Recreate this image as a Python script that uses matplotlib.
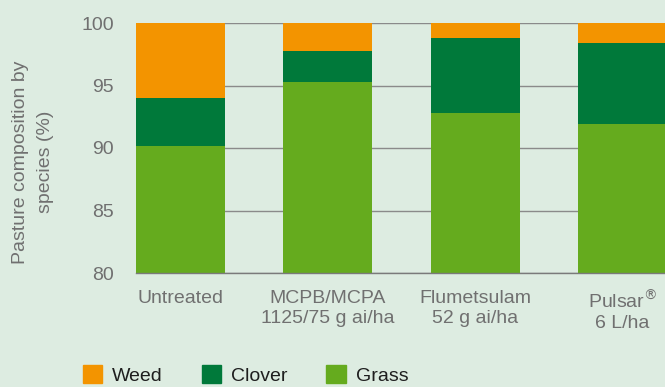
import numpy as np
import matplotlib
matplotlib.use('Agg')
import matplotlib.pyplot as plt
from matplotlib.patches import Patch

treatments = ['Untreated', 'MCPB/MCPA\n1125/75 g ai/ha', 'Flumetsulam\n52 g ai/ha',
              'Pulsar$^{®}$\n6 L/ha']
grass = [90.2, 95.3, 92.8, 91.9]
clover = [3.8, 2.5, 6.0, 6.5]
weed = [6.0, 2.2, 1.2, 1.6]

c_weed = '#f39400'
c_clover = '#00793a'
c_grass = '#65ab1e'
bg = '#ddece1'
txt = '#707070'

plt.rcParams['font.family'] = ['Liberation Sans', 'DejaVu Sans']

fig = plt.figure(figsize=(6.65, 3.87), dpi=100, facecolor=bg)
ax = fig.add_axes([136/665, 114/387, 529/665, 250/387])
ax.set_facecolor(bg)

x = np.arange(len(treatments))
w = 0.604
base = 80.0
g = np.array(grass)
c = np.array(clover)
wd = np.array(weed)
ax.bar(x, g - base, w, bottom=base, color=c_grass, zorder=2)
ax.bar(x, c, w, bottom=g, color=c_clover, zorder=2)
ax.bar(x, wd, w, bottom=g + c, color=c_weed, zorder=2)

ax.set_xlim(-w/2, -w/2 + 529/147.3)
ax.set_ylim(80, 100)
ax.set_yticks([80, 85, 90, 95, 100])
ax.yaxis.grid(True, color='#8a8a8a', linewidth=1.0, zorder=1)
ax.set_axisbelow(True)
for s in ['top', 'right', 'left']:
    ax.spines[s].set_visible(False)
ax.spines['bottom'].set_color('#7a7a7a')
ax.spines['bottom'].set_linewidth(1.0)
ax.set_xticks(x)
ax.set_xticklabels(treatments, linespacing=1.25)
ax.tick_params(axis='both', length=0, labelsize=14, labelcolor=txt)
ax.tick_params(axis='y', pad=16)
ax.tick_params(axis='x', pad=12)

fig.text(33/665, 1 - 162/387, 'Pasture composition by\nspecies (%)', rotation=90,
         ha='center', va='center', fontsize=14, color=txt, linespacing=1.65)

labels = ['Weed', 'Clover', 'Grass']
handles = [Patch(color=c_weed), Patch(color=c_clover), Patch(color=c_grass)]
fig.legend(handles, labels, loc='center left', bbox_to_anchor=(83/665, 12/387),
           ncol=3, frameon=False, fontsize=14, handlelength=1.0, handleheight=1.0,
           handletextpad=0.5, columnspacing=2.0, borderpad=0, borderaxespad=0,
           labelcolor='#1e1e1e')

fig.savefig('out.png', dpi=100, facecolor=bg)
